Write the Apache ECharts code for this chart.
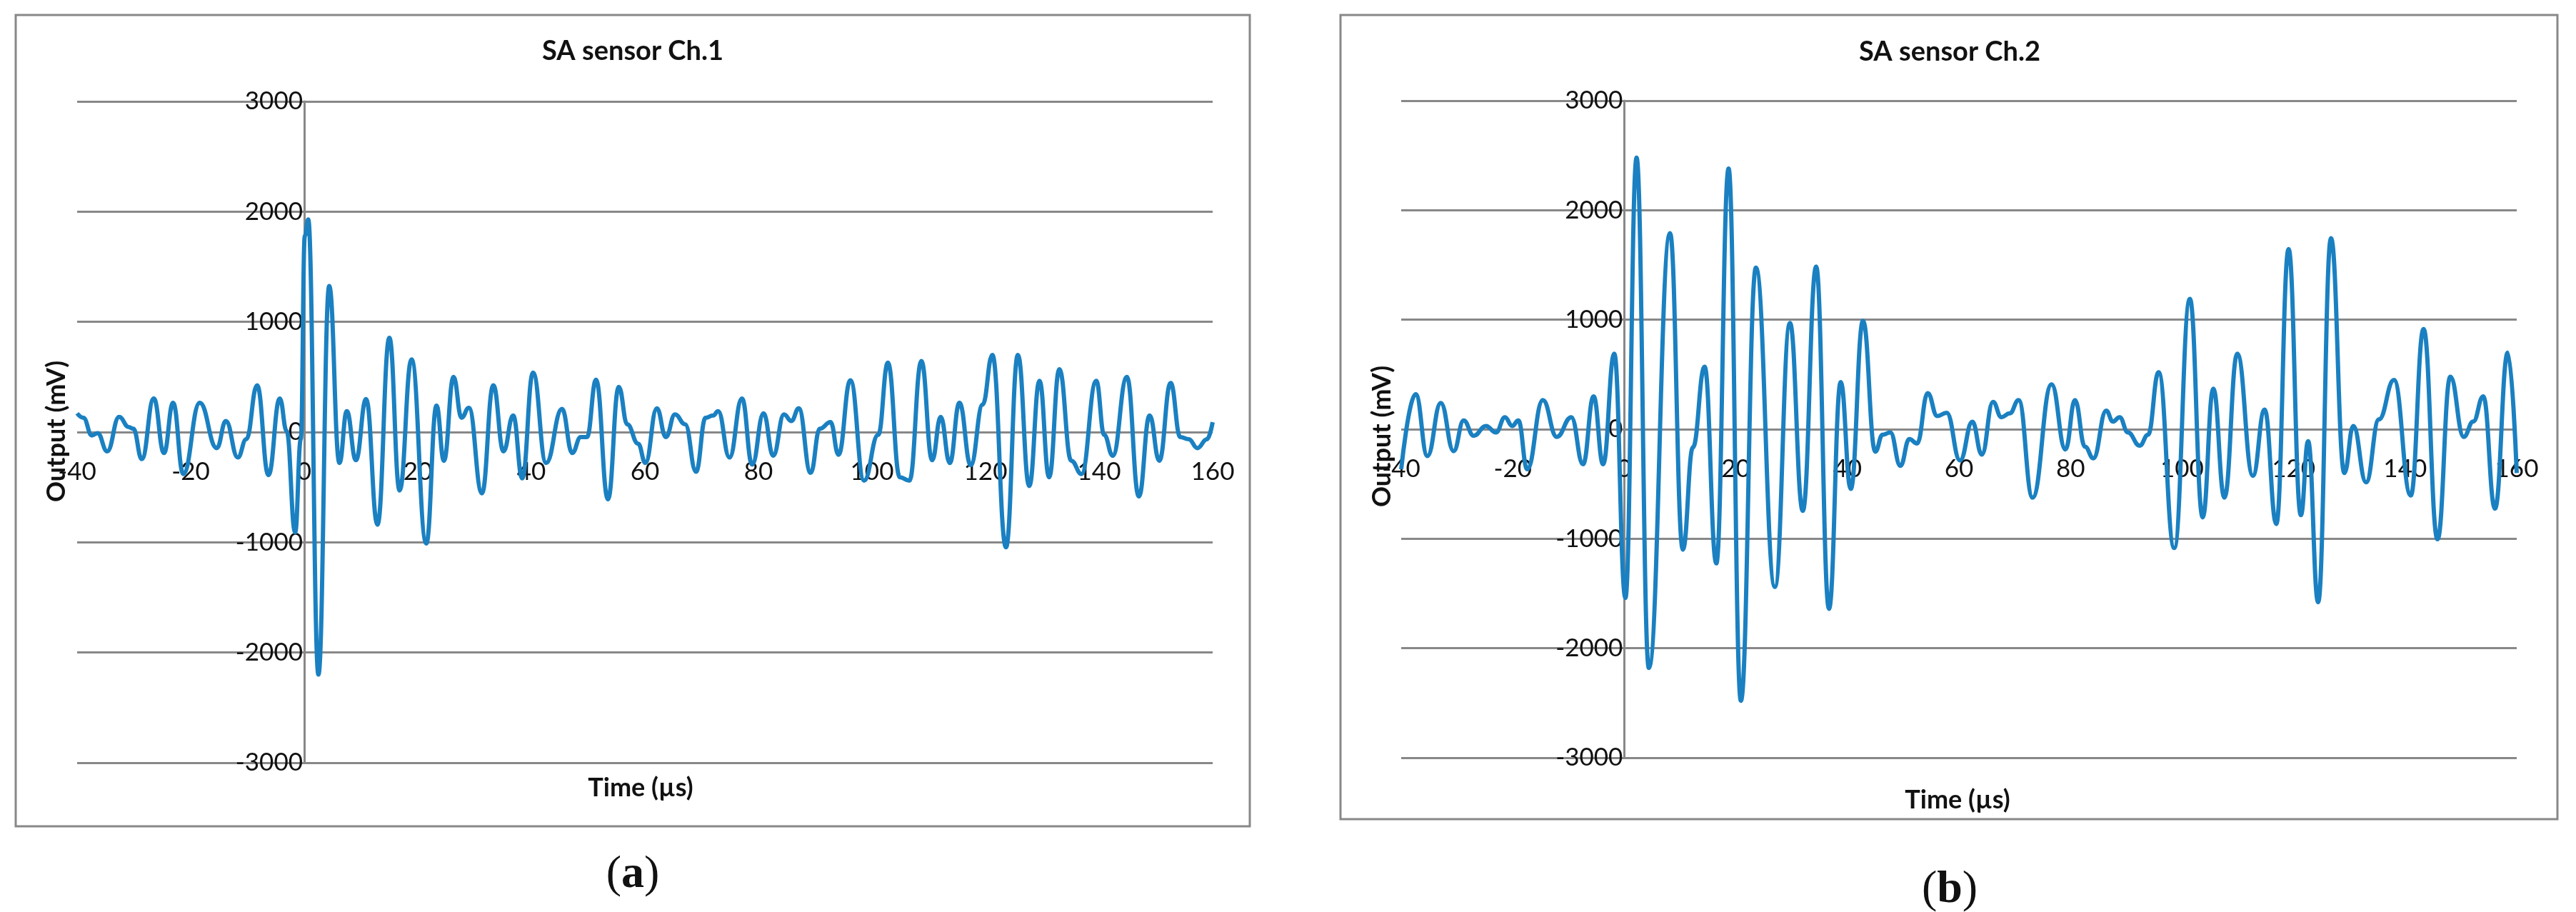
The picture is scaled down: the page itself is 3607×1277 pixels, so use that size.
<!DOCTYPE html>
<html>
<head>
<meta charset="utf-8">
<script src="https://cdn.jsdelivr.net/npm/echarts@6/dist/echarts.min.js"></script>
<style>html,body{margin:0;padding:0;background:#fff}#chart{width:3607px;height:1277px}</style>
</head>
<body>
<div id="chart"></div>
<script>
// SA sensor Ch.1 : time (us) / output (mV)
var ch1Time = [-40,-38.9,-37.4,-36.4,-34.7,-32.6,-30.9,-30.1,-28.6,-26.5,-24.7,-23.1,-21.3,-18.4,-15.4,-13.8,-11.7,-10.2,-8.3,-6.3,-4.3,-3.1,-1.6,-0.6,0.1,0.7,2.5,4.4,6.2,7.5,9.1,10.9,12.9,15.0,16.8,18.9,21.5,23.3,24.6,26.3,27.7,29.0,31.3,33.3,35.1,36.8,38.4,40.3,42.6,45.4,47.2,48.7,49.8,51.4,53.5,55.4,56.9,58.8,60.1,62.1,63.7,65.3,67.1,69.0,70.7,72.0,72.9,74.9,77.1,78.9,80.9,82.6,84.5,85.8,87.1,89.2,90.8,92.7,94.1,96.2,98.6,101.1,102.8,104.9,106.6,108.7,110.6,112.1,113.7,115.4,117.4,119.5,121.2,123.6,125.7,127.7,129.5,131.2,133.0,135.1,136.9,139.5,140.9,142.4,144.9,147.0,148.9,150.6,152.6,154.3,155.8,157.3,159.0,160];
var ch1Value = [170,130,-30,-10,-175,137,45,30,-245,305,-190,265,-380,265,-145,100,-230,-65,425,-390,305,10,-910,-65,1780,1930,-2200,1325,-280,190,-255,300,-840,855,-530,660,-1010,240,-260,500,130,220,-555,425,-175,150,-420,540,-280,210,-190,-45,-45,475,-610,410,70,-105,-280,215,-45,160,70,-360,130,150,190,-230,305,-295,170,-215,160,100,215,-370,30,90,-205,470,-440,-25,630,-410,-440,645,-255,137,-280,265,-300,250,700,-1045,700,-490,465,-410,570,-260,-380,465,-25,-215,500,-585,150,-260,445,-45,-65,-145,-65,90];

// SA sensor Ch.2
var ch2Time = [-40,-37.4,-35.3,-32.9,-30.6,-28.8,-27.0,-24.8,-23.0,-21.4,-20.1,-19.0,-17.4,-14.6,-12.1,-9.5,-7.4,-5.5,-3.8,-1.8,0.2,2.2,4.4,8.2,10.5,12.3,14.4,16.5,18.7,20.9,23.6,27.0,29.7,32.0,34.4,36.7,38.8,40.6,42.8,45.0,46.3,47.7,49.5,51.1,52.5,54.4,56.1,57.8,60.2,62.4,64.1,66.1,67.6,69.1,70.7,73.2,76.6,79.1,80.8,82.6,84.1,86.4,87.6,88.8,90.3,92.4,93.9,95.8,98.6,101.4,103.7,105.6,107.6,109.9,112.7,114.8,116.9,119.1,121.3,122.6,124.4,126.7,129.1,130.7,133.0,135.3,138.0,141.0,143.3,145.8,148.1,150.5,152.2,154.0,156.1,158.4,160];
var ch2Value = [-365,320,-245,240,-200,80,-60,30,-30,110,30,80,-365,265,-70,110,-320,300,-320,690,-1540,2480,-2180,1790,-1100,-165,570,-1225,2380,-2480,1475,-1440,970,-745,1485,-1640,430,-545,990,-205,-50,-30,-335,-90,-130,330,120,150,-285,68,-232,250,110,145,265,-625,410,-185,265,-160,-265,170,70,110,-30,-150,-50,520,-1085,1190,-805,370,-625,690,-425,180,-865,1645,-785,-110,-1580,1745,-400,30,-485,90,450,-605,915,-1005,480,-70,70,300,-725,700,-400];

var xTicks = [-40,-20,0,20,40,60,80,100,120,140,160];
var yTicks = [-3000,-2000,-1000,0,1000,2000,3000];

function pairs(t, v) {
  var out = [];
  for (var i = 0; i < t.length; i++) out.push([t[i], v[i]]);
  return out;
}

var font = 'Lato';
var grids = [
  {left: 108, right: 1909, top: 142, height: 926},
  {left: 1962, right: 83, top: 141, height: 920}
];
var gridW = [3607 - 108 - 1909, 3607 - 1962 - 83];

// axes sit at value 0 of the other axis (moved inward with offset)
function xAxisFor(i) {
  var xMin = xTicks[0], xMax = xTicks[xTicks.length - 1];
  return {
    type: 'value', gridIndex: i, min: xMin, max: xMax, interval: 20,
    position: 'bottom', offset: -grids[i].height * (0 - yTicks[0]) / (yTicks[yTicks.length - 1] - yTicks[0]),
    axisLine: {onZero: false, show: false},
    axisTick: {show: false},
    axisLabel: {color: '#111', fontSize: 35, fontFamily: font, margin: 38},
    splitLine: {show: false}
  };
}
function yAxisFor(i) {
  var xMin = xTicks[0], xMax = xTicks[xTicks.length - 1];
  return {
    type: 'value', gridIndex: i, min: yTicks[0], max: yTicks[yTicks.length - 1], interval: 1000,
    position: 'left', offset: -gridW[i] * (0 - xMin) / (xMax - xMin),
    axisLine: {show: true, onZero: false, lineStyle: {color: '#888', width: 3}},
    axisTick: {show: false},
    axisLabel: {color: '#111', fontSize: 35, fontFamily: font, margin: 2,
      formatter: function (v) { return String(v); }},
    splitLine: {lineStyle: {color: '#888', width: 3}}
  };
}
function seriesFor(i, data) {
  return {
    type: 'line', xAxisIndex: i, yAxisIndex: i, data: data,
    smooth: 0.45, smoothMonotone: 'x', symbol: 'none',
    lineStyle: {color: '#1a80c1', width: 6}
  };
}

function txt(x, y, s, size, opt) {
  var st = {text: s, x: x, y: y, fill: '#111', fontSize: size, fontFamily: font,
    align: 'center', verticalAlign: 'middle'};
  for (var k in opt) st[k] = opt[k];
  return {type: 'text', z: 10, style: st};
}

var myChart = echarts.init(document.getElementById('chart'));
var option = {
  backgroundColor: '#fff',
  animation: false,
  grid: grids,
  xAxis: [xAxisFor(0), xAxisFor(1)],
  yAxis: [yAxisFor(0), yAxisFor(1)],
  series: [seriesFor(0, pairs(ch1Time, ch1Value)), seriesFor(1, pairs(ch2Time, ch2Value))],
  graphic: [
    {type: 'rect', shape: {x: 22, y: 21, width: 1728, height: 1136}, style: {fill: 'none', stroke: '#888', lineWidth: 3}},
    {type: 'rect', shape: {x: 1877, y: 21, width: 1704, height: 1126}, style: {fill: 'none', stroke: '#888', lineWidth: 3}},
    txt(886, 72, 'SA sensor Ch.1', 38, {fontWeight: 'bold'}),
    txt(2730, 73, 'SA sensor Ch.2', 38, {fontWeight: 'bold'}),
    txt(897, 1103, 'Time (µs)', 36, {fontWeight: 'bold'}),
    txt(2741, 1120, 'Time (µs)', 36, {fontWeight: 'bold'}),
    {type: 'text', z: 10, x: 79, y: 604, rotation: Math.PI / 2,
      style: {text: 'Output (mV)', fill: '#111', fontSize: 36, fontFamily: font, fontWeight: 'bold', align: 'center', verticalAlign: 'middle'}},
    {type: 'text', z: 10, x: 1935, y: 611, rotation: Math.PI / 2,
      style: {text: 'Output (mV)', fill: '#111', fontSize: 36, fontFamily: font, fontWeight: 'bold', align: 'center', verticalAlign: 'middle'}},
    {type: 'text', z: 10, style: {text: '({b|a})', x: 886, y: 1225, fill: '#111', fontSize: 64, fontFamily: 'Liberation Serif', align: 'center', verticalAlign: 'middle',
      rich: {b: {fontSize: 64, fontFamily: 'Liberation Serif', fontWeight: 'bold', fill: '#111'}}}},
    {type: 'text', z: 10, style: {text: '({b|b})', x: 2730, y: 1246, fill: '#111', fontSize: 64, fontFamily: 'Liberation Serif', align: 'center', verticalAlign: 'middle',
      rich: {b: {fontSize: 64, fontFamily: 'Liberation Serif', fontWeight: 'bold', fill: '#111'}}}}
  ]
};
myChart.setOption(option);
</script>
</body>
</html>
